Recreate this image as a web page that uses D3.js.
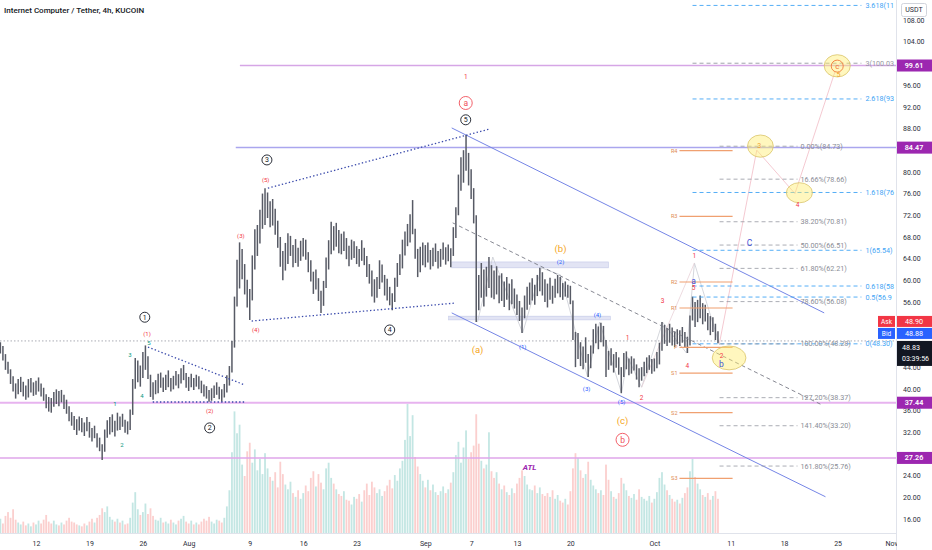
<!DOCTYPE html>
<html>
<head>
<meta charset="utf-8">
<script src="https://cdn.jsdelivr.net/npm/d3@7.9.0/dist/d3.min.js"></script>
<style>
  html, body { margin: 0; padding: 0; background: #fff; }
  svg { display: block; font-family: Roboto, "Liberation Sans", sans-serif; }
</style>
</head>
<body>
<svg id="chart" width="932" height="550"></svg>
<script>
const parse = d3.utcParse('%Y-%m-%d %H:%M');

// 8h bars starting Jul 7 2021, one line per day
const firstBar = '2021-07-07 00:00';
const barLow = [
  45.8,46.5,45.2, 43.5,42.8,40.9, 39.5,38.2,39.0, 39.4,38.6,38.0, 38.4,39.3,38.7, // Jul 7-11
  38.9,39.5,38.6, 37.8,36.4,35.8, 35.6,36.7,37.2, 36.8,37.5,36.3, 35.4,34.0,33.2, // Jul 12-16
  32.4,31.5,32.3, 32.0,31.3,32.2, 31.0,30.3,30.9, 29.2,28.5,26.9, 28.4,31.0,31.6, // Jul 17-21
  32.0,31.2,32.3, 32.4,33.0,31.9, 31.6,32.4,35.2, 40.0,41.2,40.4, 42.0,43.5,41.8, // Jul 22-26
  38.5,38.0,39.0, 39.2,40.2,39.4, 39.8,40.3,39.5, 39.9,40.6,40.1, 41.0,41.6,40.2, // Jul 27-31
  39.6,40.3,39.8, 40.4,39.9,39.2, 38.6,38.2,37.6, 37.8,38.3,38.9, 38.1,37.6,38.4, // Aug 1-5
  39.3,40.6,43.0, 47.6,55.2,58.5, 60.2,57.4,55.0, 52.7,56.3,62.0, 64.5,66.8,69.5, // Aug 6-10
  70.2,71.5,69.8, 70.1,68.4,66.0, 62.5,60.0,61.8, 63.0,64.5,62.4, 63.2,62.5,63.6, // Aug 11-15
  64.4,63.8,61.5, 59.8,57.5,58.3, 56.2,54.0,55.3, 58.6,62.0,64.8, 65.5,66.2,65.0, // Aug 16-20
  64.8,65.4,63.9, 62.6,63.8,64.1, 63.0,62.5,63.6, 62.8,60.6,59.4, 57.0,55.9,56.8, // Aug 21-25
  58.4,59.6,57.2, 56.3,55.4,54.5, 56.0,58.8,61.0, 62.2,64.6,66.3, 67.0,68.5,64.0, // Aug 26-30
  60.6,61.5,62.8,                                                                  // Aug 31
  62.4,63.3,62.0, 62.6,63.4,62.2, 62.5,63.8,62.9, 63.5,62.4,64.5, 67.8,72.0,76.5, // Sep 1-5
  78.0,80.2,77.5, 75.0,70.5,52.3, 54.5,56.8,55.2, 57.0,58.6,56.8, 56.5,57.4,55.8, // Sep 6-10
  56.2,55.1,56.4, 54.5,55.6,54.8, 53.6,52.5,50.3, 53.0,54.6,55.5, 56.3,55.5,57.1, // Sep 11-15
  58.0,57.2,56.0, 55.0,56.4,55.7, 56.8,57.6,56.9, 56.4,57.0,56.8, 55.6,49.0,44.0, // Sep 16-20
  45.5,44.2,43.6, 44.8,42.2,43.8, 46.5,48.4,47.3, 48.6,47.8,42.2, 43.5,44.3,43.0, // Sep 21-25
  43.9,42.6,39.2, 42.2,43.6,42.5, 42.8,43.4,41.7, 40.3,41.5,42.3, 42.9,43.5,42.8, // Sep 26-30
  43.2,43.8,44.5, 47.0,48.3,47.9, 48.5,48.0,47.7, 48.2,47.9,48.5, 47.6,46.6,48.0, // Oct 1-5
  52.6,51.4,52.3, 53.0,51.9,52.4, 50.8,49.9,50.5, 49.0,48.4                       // Oct 6-9
];
const barHigh = [
  48.2,48.6,47.9, 46.4,45.0,43.6, 42.3,41.0,41.8, 42.2,41.3,40.6, 41.8,42.0,41.2,
  41.5,42.1,41.0, 40.2,39.0,38.5, 38.3,39.4,39.9, 39.6,39.8,38.9, 38.0,36.8,35.7,
  35.0,34.4,34.9, 34.6,33.8,34.8, 33.9,32.8,33.2, 31.8,31.0,29.8, 32.5,34.2,34.8,
  35.3,34.1,35.6, 34.9,35.4,34.3, 34.0,36.2,41.8, 45.7,45.2,44.3, 46.8,48.0,46.0,
  42.6,41.2,41.6, 42.8,43.0,42.1, 42.6,43.4,42.0, 42.4,43.3,42.7, 43.8,44.4,42.9,
  42.2,42.8,42.0, 42.6,42.3,41.5, 40.8,40.5,39.8, 40.1,40.6,41.2, 40.4,39.9,40.9,
  42.5,44.2,48.8, 57.0,63.8,67.0, 65.8,63.0,60.1, 58.4,64.6,69.4, 70.2,73.0,76.0,
  77.0,76.2,74.6, 75.0,73.2,71.0, 68.0,65.4,66.9, 68.7,68.2,66.5, 67.6,66.0,67.3,
  67.8,67.5,65.2, 63.7,61.6,62.0, 60.4,58.1,59.9, 64.2,67.4,70.8, 70.0,70.6,69.3,
  68.6,69.0,67.8, 66.4,67.5,67.2, 66.3,65.8,67.4, 66.0,64.5,63.0, 61.8,60.2,60.6,
  63.7,62.9,61.0, 60.3,58.8,57.6, 60.5,63.2,64.8, 67.5,69.0,70.4, 72.2,74.8,69.5,
  65.8,66.2,67.0,
  66.5,67.0,65.6, 66.0,66.8,65.4, 65.8,67.0,66.1, 66.6,65.9,69.8, 73.5,79.5,82.7,
  84.0,86.8,83.5, 80.5,77.0,72.0, 61.0,63.2,62.0, 62.5,64.3,62.8, 61.8,62.6,60.9,
  61.3,59.8,60.6, 59.4,60.2,58.5, 57.4,56.2,55.0, 57.2,58.8,59.6, 60.4,59.2,61.0,
  62.3,61.5,60.2, 59.4,60.5,59.0, 60.3,61.0,60.6, 59.5,59.8,59.2, 59.0,56.3,50.5,
  50.3,48.6,47.8, 49.5,46.4,48.0, 51.0,52.0,51.5, 52.2,51.6,49.0, 47.0,47.5,46.4,
  46.8,45.8,44.0, 46.6,46.9,45.6, 46.0,45.6,44.5, 43.8,44.0,45.0, 45.8,46.2,45.5,
  45.6,46.8,48.5, 52.3,51.8,51.2, 52.0,51.3,50.6, 51.0,50.8,51.4, 50.5,49.6,53.5,
  57.0,56.0,56.4, 57.2,55.8,55.5, 54.0,53.4,53.2, 52.0,50.6
];
const barVolume = [
  1.2,1.5,1.0, 1.8,2.2,1.6, 2.5,1.4,1.1, 0.9,1.2,0.8, 1.0,0.7,1.1,
  0.9,1.3,1.0, 1.4,1.9,1.2, 1.0,1.3,0.9, 0.8,1.1,0.9, 1.3,1.6,1.2,
  1.1,0.9,0.8, 0.7,1.0,0.8, 1.2,1.5,1.1, 1.6,1.9,2.6, 2.2,2.8,1.7,
  1.4,1.2,1.5, 1.1,1.3,0.9, 1.0,1.6,3.2, 4.3,2.5,1.9, 2.2,3.1,2.0,
  2.6,1.8,1.4, 1.3,1.6,1.1, 1.2,1.0,1.4, 1.1,0.9,1.3, 1.5,1.8,1.2,
  1.0,1.3,0.9, 1.1,0.9,1.2, 1.5,1.3,1.7, 1.2,1.0,1.4, 1.3,1.1,1.6,
  2.8,4.5,8.5, 12.8,10.5,11.4, 7.2,6.0,8.6, 9.5,7.4,8.8, 6.6,7.8,6.2,
  8.4,6.8,5.9, 5.5,6.4,4.8, 7.5,6.2,5.1, 4.6,5.4,4.2, 3.8,4.5,3.6,
  4.2,5.0,4.4, 5.8,6.5,4.9, 6.2,5.3,4.6, 6.8,7.4,5.8, 5.2,4.6,4.1,
  3.9,4.4,3.5, 3.4,3.0,3.8, 3.6,4.1,3.3, 4.5,5.2,4.0, 5.4,4.8,4.2,
  4.6,3.9,4.4, 5.0,5.6,4.7, 6.1,5.5,6.8, 7.6,9.8,13.6, 10.2,12.4,8.0,
  7.0,6.2,5.5,
  4.8,5.6,4.5, 5.1,4.3,4.0, 4.4,4.9,4.2, 4.6,5.3,6.4, 8.2,9.6,7.4,
  9.0,10.8,7.8, 8.5,9.2,12.5, 9.4,7.6,6.8, 7.2,10.6,6.5, 5.8,6.4,5.2,
  4.6,5.0,4.3, 4.0,4.7,4.2, 5.2,5.8,6.6, 6.0,5.1,4.6, 4.5,5.0,4.2,
  4.8,4.1,3.9, 4.2,3.8,4.5, 3.6,4.0,3.4, 3.2,3.6,3.0, 4.4,6.8,8.4,
  7.9,6.6,5.8, 6.2,7.5,5.6, 5.0,4.6,4.2, 4.5,4.0,7.2, 5.6,4.4,3.8,
  3.6,4.2,5.8, 5.2,4.5,3.9, 3.7,4.1,3.5, 4.6,3.8,3.6, 3.4,3.9,3.2,
  3.6,4.3,5.8, 6.4,5.1,4.5, 4.0,3.6,3.3, 3.5,3.1,3.7, 4.2,4.8,6.5,
  7.8,5.9,5.2, 4.6,4.0,3.8, 4.2,3.5,3.9, 4.4,3.6
];

const lastPrice = 48.83, askPrice = 48.90, bidPrice = 48.88;
const countdown = '03:39:56';

// axes
const priceTicks = [16,20,24,28,32,36,40,44,48,52,56,60,64,68,72,76,80,84,88,92,96,100,104,108];
const timeTicks = ['2021-07-12','2021-07-19','2021-07-26','2021-08-01','2021-08-09','2021-08-16','2021-08-23',
  '2021-09-01','2021-09-07','2021-09-13','2021-09-20','2021-10-01','2021-10-11','2021-10-18','2021-10-25','2021-11-01'];
const timeLabels = ['12','19','26','Aug','9','16','23','Sep','7','13','20','Oct','11','18','25','Nov'];

// horizontal levels
const levelPrices = [99.61, 84.47, 37.44, 27.26];
const levelStarts = ['2021-08-07 17:00', '2021-08-07 04:00', null, null];
const levelColors = ['#d6a6e6', '#aaa6ee', '#e7b3ef', '#dfa6ea'];

// fib extension and retracement
const extBase = [48.297, 65.5415];
const extLevels = [0, 0.5, 0.618, 1, 1.618, 2.618, 3, 3.618];
const extSpan = ['2021-10-06 00:00', '2021-10-28 03:00'];
const retBase = [84.728, 48.2835];
const retLevels = [0, 0.1666, 0.382, 0.5, 0.618, 0.786, 1, 1.272, 1.414, 1.618];
const retSpan = ['2021-10-09 13:00', '2021-10-19 18:00'];

// pivots
const pivotNames = ['R4','R3','R2','R1','P','S1','S2','S3'];
const pivotValues = [83.9, 71.8, 59.7, 54.9, 47.65, 42.9, 35.6, 23.5];
const pivotSpan = ['2021-10-04 07:00', '2021-10-11 06:00'];

// drawings
const channelUpper = [['2021-09-04 11:00', 88.1], ['2021-10-23 06:00', 54.0]];
const channelLower = [['2021-09-04 11:00', 54.0], ['2021-10-23 10:00', 20.1]];
const wedgeUpper = [['2021-08-11 09:00', 77.0], ['2021-09-09 10:00', 87.9]];
const wedgeLower = [['2021-08-09 06:00', 52.5], ['2021-09-04 20:00', 55.8]];
const triangleUpper = [['2021-07-26 16:00', 47.7], ['2021-08-08 09:00', 40.7]];
const triangleLower = [['2021-07-27 07:00', 37.57], ['2021-08-08 09:00', 37.57]];
const trendDashed = [['2021-09-04 14:00', 70.6], ['2021-10-23 00:00', 37.0]];
const zoneBoxes = [
  ['2021-09-04 11:00', 63.4, '2021-09-25 00:00', 62.3],
  ['2021-09-04 01:00', 53.4, '2021-09-25 06:00', 52.7]
];
const wavePath = [
  ['2021-09-07 20:00', 52.3], ['2021-09-09 20:00', 64.3], ['2021-09-13 18:00', 50.3], ['2021-09-16 05:00', 62.3],
  ['2021-09-18 17:00', 61.0], ['2021-09-22 06:00', 42.2], ['2021-09-23 20:00', 52.3], ['2021-09-26 17:00', 39.2],
  ['2021-09-27 12:00', 45.9], ['2021-09-29 08:00', 40.3], ['2021-10-02 02:00', 52.3], ['2021-10-05 05:00', 46.6],
  ['2021-10-06 06:00', 63.2], ['2021-10-09 13:00', 48.1]
];
const waveHigher = [['2021-09-29 08:00', 40.3], ['2021-10-06 06:00', 63.2]];
const projection = [['2021-10-09 13:00', 48.5], ['2021-10-14 10:00', 84.0], ['2021-10-19 10:00', 76.0], ['2021-10-24 16:00', 98.5]];
const ellipses = [
  ['2021-10-08 14:00', 47.9, '2021-10-13 00:00', 43.5],
  ['2021-10-13 05:00', 86.8, '2021-10-16 14:00', 82.7],
  ['2021-10-18 07:00', 78.0, '2021-10-21 17:00', 74.3],
  ['2021-10-23 06:00', 101.6, '2021-10-26 16:00', 97.5]
];

// wave labels
const blackCircled = [['1','2021-07-26 06:00',53.2], ['2','2021-08-03 18:00',32.8], ['3','2021-08-11 06:00',82.2],
  ['4','2021-08-27 08:00',50.85], ['5','2021-09-06 07:00',89.6]];
const redCircled = [['a','2021-09-06 07:00',92.7], ['b','2021-09-26 20:00',30.6]];
const orangeCircled = [['c','2021-10-24 23:00',99.5]];
const redMinor = [['(1)','2021-07-26 13:00',50.1], ['(2)','2021-08-03 18:00',35.9], ['(3)','2021-08-07 20:00',68.2],
  ['(4)','2021-08-09 19:00',50.85], ['(5)','2021-08-11 02:00',78.5]];
const greenMinute = [['1','2021-07-22 08:00',37.2], ['2','2021-07-23 06:00',29.6], ['3','2021-07-24 07:00',46.2],
  ['4','2021-07-25 21:00',38.7], ['5','2021-07-26 19:00',48.45]];
const orangeCorrective = [['(a)','2021-09-07 20:00',47.3], ['(b)','2021-09-18 17:00',65.8], ['(c)','2021-09-26 20:00',34.1]];
const blueMinor = [['(1)','2021-09-13 18:00',47.7], ['(2)','2021-09-18 17:00',63.4], ['(3)','2021-09-22 03:00',40.0],
  ['(4)','2021-09-23 13:00',53.6], ['(5)','2021-09-26 17:00',37.6]];
const redMinute = [['1','2021-09-27 12:00',49.4], ['2','2021-09-29 08:00',38.3], ['3','2021-10-02 02:00',56.2],
  ['4','2021-10-05 08:00',44.2], ['5','2021-10-06 03:00',58.6], ['1','2021-10-06 06:00',64.5],
  ['1','2021-09-06 07:00',97.5], ['4','2021-10-19 18:00',73.9], ['2','2021-10-09 19:00',46.1]];
const blueLetters = [['a','2021-10-06 03:00',59.9], ['b','2021-10-09 19:00',44.6], ['C','2021-10-13 11:00',66.9]];
const orangeSmall = [['3','2021-10-14 18:00',84.8], ['5','2021-10-25 03:00',97.9]];
const atlLabel = ['ATL', '2021-09-14 16:00', 25.6];

// ---------- scales ----------
const plotRight = 896, plotBottom = 533;
const x = d3.scaleUtc().domain([parse('2021-07-12 00:00'), parse('2021-11-01 00:00')]).range([36, 891]);
const y = d3.scaleLinear().domain([16, 108]).range([519, 20]);
const yVol = d3.scaleLinear().domain([0, 14]).range([plotBottom, 400]);
const px = s => x(parse(s));

const t0 = parse(firstBar);
const bars = barLow.map((lo, i) => ({
  date: d3.utcHour.offset(t0, 8 * i), low: lo, high: barHigh[i], vol: barVolume[i]
}));
bars.forEach((b, i) => {
  const prev = i > 0 ? bars[i - 1] : b;
  b.up = (b.low + b.high) >= (prev.low + prev.high);
});

const svg = d3.select('#chart');
svg.append('defs').append('clipPath').attr('id', 'plot')
  .append('rect').attr('width', plotRight).attr('height', plotBottom);
const g = svg.append('g').attr('clip-path', 'url(#plot)');

// cut a label so it ends before the price scale, as the platform does
function fitText(sel) {
  const node = sel.node();
  let t = sel.text();
  while (t.length > 1 && node.getBBox().x + node.getComputedTextLength() > plotRight - 1) {
    t = t.slice(0, -1);
    sel.text(t);
  }
}

// volume
g.append('g').selectAll('rect').data(bars).join('rect')
  .attr('x', d => x(d.date) - 0.9).attr('width', 1.8)
  .attr('y', d => yVol(d.vol)).attr('height', d => plotBottom - yVol(d.vol))
  .attr('fill', d => d.up ? 'rgba(38,166,154,0.28)' : 'rgba(239,83,80,0.28)');

// horizontal levels
levelPrices.forEach((p, i) => {
  g.append('line')
    .attr('x1', levelStarts[i] ? px(levelStarts[i]) : 0).attr('x2', plotRight)
    .attr('y1', y(p)).attr('y2', y(p))
    .attr('stroke', levelColors[i]).attr('stroke-width', i === 2 ? 2 : 1.5);
});

// zones
g.selectAll('.zone').data(zoneBoxes).join('rect').attr('class', 'zone')
  .attr('x', d => px(d[0])).attr('y', d => y(d[1]))
  .attr('width', d => px(d[2]) - px(d[0])).attr('height', d => y(d[3]) - y(d[1]))
  .attr('fill', 'rgba(121,134,203,0.22)').attr('stroke', 'rgba(121,134,203,0.35)').attr('stroke-width', 0.6);

const line = d3.line().x(d => px(d[0])).y(d => y(d[1]));
function drawLine(pts, color, width, dash) {
  g.append('path').attr('d', line(pts)).attr('fill', 'none')
    .attr('stroke', color).attr('stroke-width', width)
    .attr('stroke-dasharray', dash || null);
}

drawLine(wavePath, '#c9ccd3', 0.8);
drawLine(waveHigher, '#e8d2d8', 0.8);
drawLine(projection, '#f3c3cc', 0.9);
drawLine(channelUpper, '#7585e6', 1);
drawLine(channelLower, '#7585e6', 1);

// current price line
g.append('line').attr('x1', 0).attr('x2', plotRight)
  .attr('y1', y(lastPrice)).attr('y2', y(lastPrice))
  .attr('stroke', '#9598a1').attr('stroke-width', 0.8).attr('stroke-dasharray', '1.5,2');

// price bars
g.append('g').selectAll('path').data(bars).join('path')
  .attr('d', d => `M${x(d.date)},${y(d.high)}V${y(d.low)}`)
  .attr('stroke', '#575a65').attr('stroke-width', 1.5);

drawLine(wedgeUpper, '#3949ab', 1.3, '1.4,2.2');
drawLine(wedgeLower, '#3949ab', 1.3, '1.4,2.2');
drawLine(triangleUpper, '#3949ab', 1.3, '1.4,2.2');
drawLine(triangleLower, '#3949ab', 1.3, '1.4,2.2');
drawLine(trendDashed, '#787b86', 0.9, '4,3');

// fib extension
extLevels.forEach(lv => {
  const p = extBase[0] + lv * (extBase[1] - extBase[0]);
  const col = lv === 3 ? '#9598a1' : '#42a5f5';
  g.append('line').attr('x1', px(extSpan[0])).attr('x2', px(extSpan[1]))
    .attr('y1', y(p)).attr('y2', y(p))
    .attr('stroke', col).attr('stroke-width', 0.9).attr('stroke-dasharray', '4,3');
  g.append('text').attr('x', px(extSpan[1]) + 4).attr('y', y(p)).attr('dy', '0.35em')
    .attr('font-size', 7.2).attr('fill', col).text(`${lv}(${p.toFixed(2)})`)
    .call(fitText);
});

// fib retracement
retLevels.forEach(lv => {
  const p = retBase[0] - lv * (retBase[0] - retBase[1]);
  g.append('line').attr('x1', px(retSpan[0])).attr('x2', px(retSpan[1]))
    .attr('y1', y(p)).attr('y2', y(p))
    .attr('stroke', '#9598a1').attr('stroke-width', 0.8).attr('stroke-dasharray', '4,3');
  g.append('text').attr('x', px(retSpan[1]) + 3).attr('y', y(p)).attr('dy', '0.35em')
    .attr('font-size', 7.2).attr('fill', '#8a8d96').text(`${(lv * 100).toFixed(2)}%(${p.toFixed(2)})`);
});

// pivots
pivotValues.forEach((p, i) => {
  g.append('line').attr('x1', px(pivotSpan[0])).attr('x2', px(pivotSpan[1]))
    .attr('y1', y(p)).attr('y2', y(p)).attr('stroke', '#f0a070').attr('stroke-width', 1.2);
  g.append('text').attr('x', px(pivotSpan[0]) - 2).attr('y', y(p)).attr('dy', '0.35em')
    .attr('text-anchor', 'end').attr('font-size', 5.5).attr('fill', '#e08a50').text(pivotNames[i]);
});

// ellipses
g.selectAll('.ell').data(ellipses).join('ellipse').attr('class', 'ell')
  .attr('cx', d => (px(d[0]) + px(d[2])) / 2).attr('cy', d => (y(d[1]) + y(d[3])) / 2)
  .attr('rx', d => (px(d[2]) - px(d[0])) / 2).attr('ry', d => (y(d[3]) - y(d[1])) / 2)
  .attr('fill', 'rgba(255,238,110,0.45)').attr('stroke', '#d9c46a').attr('stroke-width', 0.8);

// labels
function drawText(list, color, size, extra) {
  list.forEach(([t, d, p]) => {
    const el = g.append('text').attr('x', px(d)).attr('y', y(p)).attr('dy', '0.35em')
      .attr('text-anchor', 'middle').attr('font-size', size).attr('fill', color).text(t);
    if (extra) extra(el);
  });
}
function drawCircled(list, color, r, size) {
  list.forEach(([t, d, p]) => {
    g.append('circle').attr('cx', px(d)).attr('cy', y(p)).attr('r', r)
      .attr('fill', 'none').attr('stroke', color).attr('stroke-width', 0.9);
    g.append('text').attr('x', px(d)).attr('y', y(p)).attr('dy', '0.36em')
      .attr('text-anchor', 'middle').attr('font-size', size).attr('fill', color).text(t);
  });
}

drawCircled(blackCircled, '#131722', 5, 7);
drawCircled(redCircled, '#f0505a', 6.5, 8.5);
drawCircled(orangeCircled, '#f07a3a', 6, 8);
drawText(redMinor, '#f23645', 6);
drawText(greenMinute, '#089981', 6);
drawText(orangeCorrective, '#f5a623', 9.5);
drawText(blueMinor, '#2962ff', 6);
drawText(redMinute, '#f23645', 6.5);
drawText(blueLetters, '#3f51d8', 8.5);
drawText(orangeSmall, '#f0a030', 7);
drawText([atlLabel], '#9c27b0', 8, el => el.attr('font-weight', 700).attr('font-style', 'italic'));

// ---------- axes ----------
svg.append('line').attr('x1', plotRight + 0.5).attr('x2', plotRight + 0.5).attr('y1', 0).attr('y2', 550)
  .attr('stroke', '#e0e3eb');
svg.append('line').attr('x1', 0).attr('x2', plotRight).attr('y1', plotBottom + 0.5).attr('y2', plotBottom + 0.5)
  .attr('stroke', '#e0e3eb');

const markY = levelPrices.map(p => y(p));
const yPrice = y(lastPrice);
const yAxis = d3.axisRight(y).tickValues(priceTicks.filter(v => {
  const yy = y(v);
  if (yy > yPrice - 28 && yy < yPrice + 26) return false;
  return markY.every(m => Math.abs(m - yy) > 7);
})).tickFormat(d3.format('.2f')).tickSize(0).tickPadding(7);
svg.append('g').attr('transform', `translate(${plotRight},0)`).call(yAxis)
  .call(a => a.select('.domain').remove())
  .call(a => a.selectAll('text').attr('font-size', 7).attr('fill', '#2a2e39').attr('font-family', 'Roboto, sans-serif'));

const xAxis = d3.axisBottom(x).tickValues(timeTicks.map(d => parse(d + ' 00:00')))
  .tickFormat((d, i) => timeLabels[i]).tickSize(0).tickPadding(8);
const xg = svg.append('g').attr('transform', `translate(0,${plotBottom})`).call(xAxis);
xg.select('.domain').remove();
xg.selectAll('text').attr('font-size', 7).attr('fill', '#2a2e39').attr('font-family', 'Roboto, sans-serif');
xg.selectAll('.tick').filter(d => x(d) > plotRight - 6).each(function () {
  d3.select(this).select('text').attr('text-anchor', 'start').attr('dx', '-6');
});
svg.append('rect').attr('x', plotRight + 1).attr('y', plotBottom + 1).attr('width', 40).attr('height', 20).attr('fill', '#fff');

// level labels on axis
levelPrices.forEach(p => {
  svg.append('rect').attr('x', plotRight + 1).attr('y', y(p) - 6).attr('width', 35).attr('height', 12).attr('fill', '#9c27b0');
  svg.append('text').attr('x', plotRight + 18).attr('y', y(p)).attr('dy', '0.35em').attr('text-anchor', 'middle')
    .attr('font-size', 7.2).attr('font-weight', 600).attr('fill', '#fff').text(p.toFixed(2));
});

// ask / bid / last price
const quoteRows = [['Ask', askPrice, '#f23645', yPrice - 25], ['Bid', bidPrice, '#2962ff', yPrice - 13]];
quoteRows.forEach(([name, val, col, top]) => {
  svg.append('rect').attr('x', plotRight - 18).attr('y', top).attr('width', 17).attr('height', 11).attr('fill', col);
  svg.append('text').attr('x', plotRight - 9.5).attr('y', top + 5.5).attr('dy', '0.35em').attr('text-anchor', 'middle')
    .attr('font-size', 6.5).attr('fill', '#fff').text(name);
  svg.append('rect').attr('x', plotRight + 1).attr('y', top).attr('width', 35).attr('height', 11).attr('fill', col);
  svg.append('text').attr('x', plotRight + 18).attr('y', top + 5.5).attr('dy', '0.35em').attr('text-anchor', 'middle')
    .attr('font-size', 7.2).attr('fill', '#fff').text(val.toFixed(2));
});
svg.append('rect').attr('x', plotRight + 1).attr('y', yPrice).attr('width', 35).attr('height', 25).attr('fill', '#131722');
svg.append('text').attr('x', plotRight + 6).attr('y', yPrice + 7).attr('dy', '0.35em')
  .attr('font-size', 7.2).attr('fill', '#fff').text(lastPrice.toFixed(2));
svg.append('text').attr('x', plotRight + 6).attr('y', yPrice + 18).attr('dy', '0.35em')
  .attr('font-size', 7).attr('fill', '#fff').text(countdown);

// currency box
svg.append('rect').attr('x', plotRight + 5.5).attr('y', 3.5).attr('width', 25).attr('height', 13)
  .attr('fill', '#fff').attr('stroke', '#d1d4dc').attr('rx', 2);
svg.append('text').attr('x', plotRight + 18).attr('y', 10).attr('dy', '0.35em').attr('text-anchor', 'middle')
  .attr('font-size', 7).attr('fill', '#2a2e39').text('USDT');

// title
svg.append('text').attr('x', 4).attr('y', 10).attr('dy', '0.35em')
  .attr('font-size', 8).attr('font-weight', 500).attr('fill', '#131722')
  .text('Internet Computer / Tether, 4h, KUCOIN');
</script>
</body>
</html>
